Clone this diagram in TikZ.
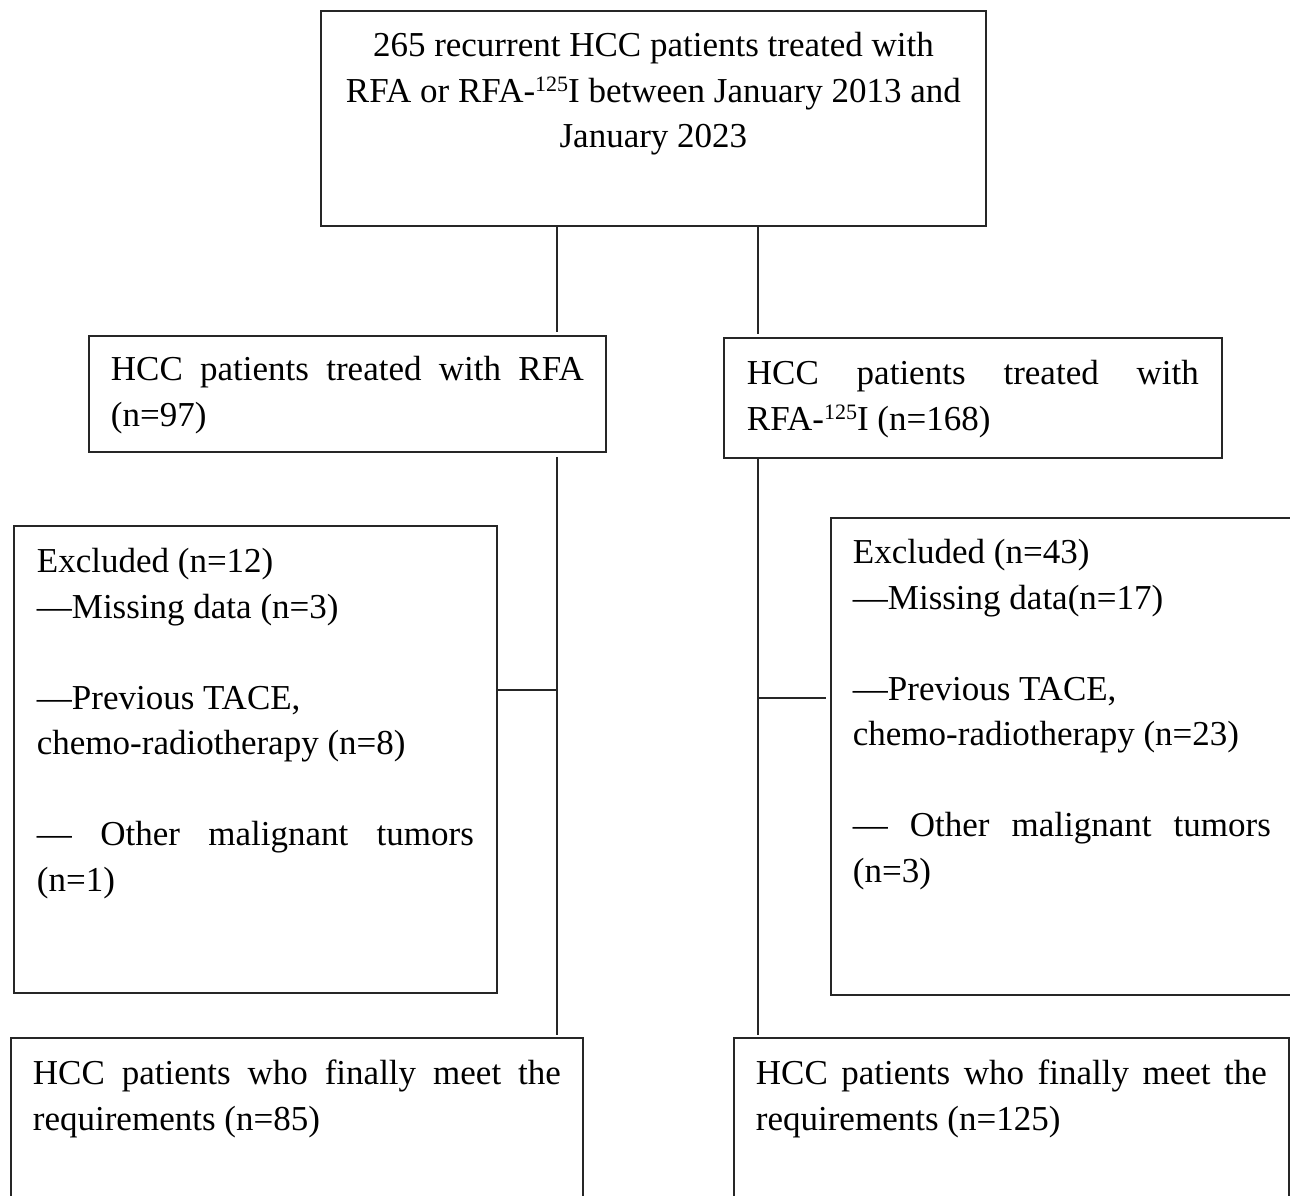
\documentclass[tikz,border=0pt]{standalone}
\usepackage{fontspec}
\setmainfont{Liberation Serif}
\newcommand{\supnum}[1]{\raisebox{11pt}{\fontsize{22}{22}\selectfont #1}}
\begin{document}
\begin{tikzpicture}[x=1pt,y=-1pt,
  box/.style={draw=black!85, line width=1.8pt, anchor=north west, inner ysep=0pt, inner xsep=22pt,
    font=\fontsize{35}{45.5}\selectfont, text=black},
  conn/.style={draw=black!85, line width=1.8pt}
]
\useasboundingbox (0,0) rectangle (1290,1195);
\clip (0,0) rectangle (1290,1195);
\hyphenpenalty=10000
% top box
\node[box, inner xsep=5pt] (top) at (320,10) {\begin{minipage}[t][215pt][t]{655pt}\centering\vspace*{14pt}\strut 265 recurrent HCC patients treated with\\ RFA or RFA-\supnum{125}I between January 2013 and\\ January 2023\end{minipage}};
% second row
\node[box] (rfa) at (88,335) {\begin{minipage}[t][116pt][t]{473pt}\vspace*{13pt}\strut HCC patients treated with RFA\linebreak (n=97)\end{minipage}};
\node[box, inner xsep=23pt] (rfai) at (723,337) {\begin{minipage}[t][120pt][t]{452pt}\vspace*{15pt}\strut HCC patients treated with\linebreak RFA-\supnum{125}I (n=168)\end{minipage}};
% excluded
\node[box, inner xsep=23pt] (exc1) at (13,525) {\begin{minipage}[t][467pt][t]{437pt}\vspace*{15pt}\strut Excluded (n=12)\par
—Missing data (n=3)\par
\mbox{}\par
—Previous TACE,\\
chemo-radiotherapy (n=8)\par
\mbox{}\par
— Other malignant tumors\linebreak (n=1)\end{minipage}};
\node[box] (exc2) at (830,517) {\begin{minipage}[t][477pt][t]{418pt}\vspace*{14pt}\strut Excluded (n=43)\par
—Missing data(n=17)\par
\mbox{}\par
—Previous TACE,\\
chemo-radiotherapy (n=23)\par
\mbox{}\par
— Other malignant tumors\linebreak (n=3)\end{minipage}};
% final
\node[box] (fin1) at (10,1037) {\begin{minipage}[t][200pt][t]{528pt}\vspace*{15pt}\strut HCC patients who finally meet the\linebreak requirements (n=85)\end{minipage}};
\node[box] (fin2) at (733,1037) {\begin{minipage}[t][200pt][t]{511pt}\vspace*{15pt}\strut HCC patients who finally meet the\linebreak requirements (n=125)\end{minipage}};
% connector guides
\coordinate (cl) at (557,0);
\coordinate (cr) at (758,0);
\coordinate (hl) at (557,690);
\coordinate (hr) at (758,698);
% connectors
\draw[conn, shorten >=3pt] (top.south -| cl) -- (rfa.north -| cl);
\draw[conn, shorten >=3pt] (top.south -| cr) -- (rfai.north -| cr);
\draw[conn, shorten <=4pt, shorten >=2pt] (rfa.south -| cl) -- (fin1.north -| cl);
\draw[conn, shorten >=2pt] (rfai.south -| cr) -- (fin2.north -| cr);
\draw[conn] (exc1.east |- hl) -- (hl);
\draw[conn, shorten >=4pt] (hr) -- (exc2.west |- hr);
\end{tikzpicture}
\end{document}
